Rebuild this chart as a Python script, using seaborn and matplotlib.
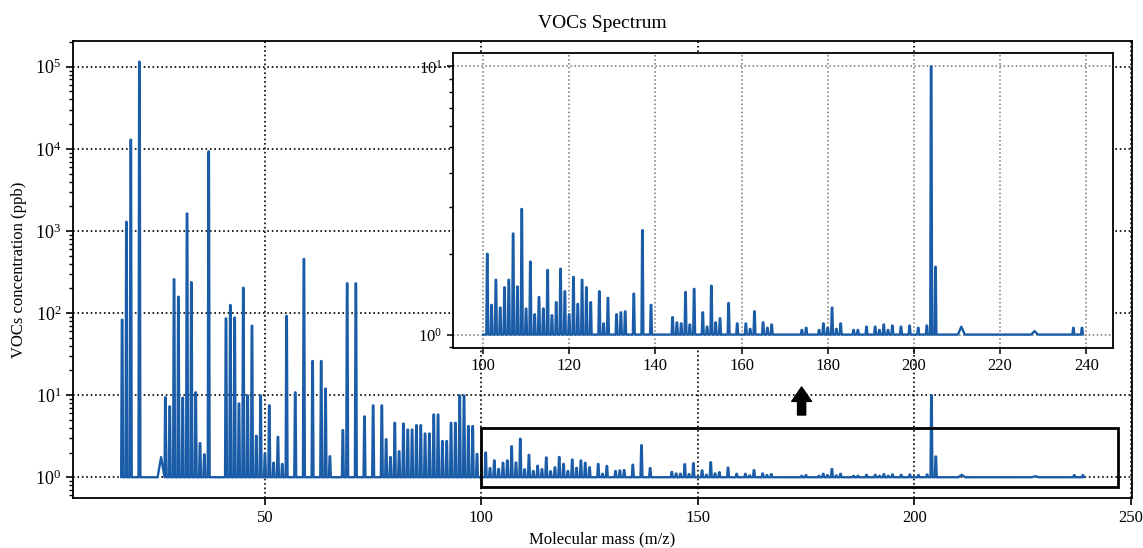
"""
VOCs spektras: pagrindinis grafikas su priartintu intarpu (100-240 m/z)
"""
import numpy as np
import pandas as pd
import matplotlib
matplotlib.use('Agg')
import matplotlib.pyplot as plt
from matplotlib.patches import Rectangle
from matplotlib.ticker import LogLocator, FixedLocator
import seaborn as sns

# Smailių masės (m/z) ir koncentracijos (ppb), nuskaitytos iš paveikslo
masses = [17, 18, 19, 21, 26, 27, 28, 29, 30, 31, 32, 33, 34, 35, 36, 37,
          41, 42, 43, 44, 45, 46, 47, 48, 49, 50, 51, 52, 53, 54, 55, 57,
          59, 61, 63, 64, 65, 68, 69, 71, 73, 75, 77, 78, 79, 80, 81, 82,
          83, 84, 85, 86, 87, 88, 89, 90, 91, 92, 93, 94, 95, 96, 97, 98, 99,
          101, 102, 103, 104, 105, 106, 107, 108, 109, 110, 111, 112, 113,
          114, 115, 116, 117, 118, 119, 120, 121, 122, 123, 124, 125, 127,
          128, 129, 131, 132, 133, 135, 137, 139, 144, 145, 146, 147, 148,
          149, 151, 152, 153, 154, 155, 157, 159, 161, 162, 163, 165, 166,
          167, 174, 175, 178, 179, 180, 181, 182, 183, 186, 187, 189, 191,
          192, 193, 194, 195, 197, 199, 201, 203, 204, 205, 211, 228, 237, 239]
conc = [83, 1290, 12900, 115000, 1.76, 9.4, 7.3, 258, 158, 9.3, 1630, 237,
        10.8, 2.6, 1.9, 9300,
        86, 125, 88, 7.9, 203, 9.9, 70, 3.2, 9.9, 1.94, 7.5, 1.5, 3.1, 1.45,
        92, 10.8,
        455, 26, 26, 12, 1.8, 3.75, 230, 230, 5.5, 7.5, 7.5, 2.9, 1.76, 4.6,
        2.07, 4.5,
        3.8, 3.8, 4.3, 4.3, 3.4, 3.4, 5.8, 5.8, 2.76, 2.76, 4.6, 4.6, 9.9,
        9.9, 4.2, 4.2, 1.92,
        2.0, 1.29, 1.60, 1.26, 1.50, 1.60, 2.38, 1.51, 2.94, 1.25, 1.87,
        1.19, 1.38,
        1.25, 1.74, 1.18, 1.32, 1.76, 1.45, 1.19, 1.64, 1.30, 1.60, 1.50,
        1.32, 1.45,
        1.10, 1.37, 1.19, 1.21, 1.22, 1.42, 2.45, 1.29, 1.16, 1.11, 1.10,
        1.44, 1.09,
        1.48, 1.21, 1.07, 1.52, 1.11, 1.15, 1.31, 1.10, 1.10, 1.05, 1.22,
        1.11, 1.06,
        1.09, 1.04, 1.06, 1.04, 1.10, 1.06, 1.26, 1.05, 1.10, 1.04, 1.04,
        1.07, 1.07,
        1.04, 1.09, 1.04, 1.08, 1.07, 1.08, 1.06, 1.08, 10.0, 1.79, 1.07,
        1.03, 1.06, 1.06]
# Platesnės (trikampės) smailės
broad_masses = [26, 211, 228]

inset_range = (100, 240)
zoom_box = (100, 0.76, 247, 4.0)   # x0, y0, x1, y1
arrow_mass = 174
arrow_span = (5.3, 13.6)

LINE_COLOR = '#1a5ca7'

# Spektro linija: kiekviena smailė – siauras stačiakampis virš bazinės linijos (1 ppb)
xs, ys = [], []
for m, v in zip(masses, conc):
    if m in broad_masses:
        xs += [m - 0.8, m, m + 0.8]
        ys += [1.0, v, 1.0]
    else:
        xs += [m - 0.22, m - 0.06, m + 0.06, m + 0.22]
        ys += [1.0, v, v, 1.0]
xs.append(inset_range[0])
ys.append(1.0)
df = pd.DataFrame({'mz': xs, 'ppb': ys}).sort_values('mz').reset_index(drop=True)
df_in = df[df['mz'] >= inset_range[0]]

sns.set_style('ticks', rc={'axes.edgecolor': 'black', 'xtick.color': 'black',
                           'ytick.color': 'black', 'text.color': 'black',
                           'axes.labelcolor': 'black'})
plt.rcParams['font.family'] = ['Liberation Serif', 'DejaVu Serif']
plt.rcParams['mathtext.fontset'] = 'stix'
plt.rcParams['axes.linewidth'] = 1.3

fig = plt.figure(figsize=(11.43, 5.48), dpi=100)
ax = fig.add_axes([0.0639, 0.0912, 0.9265, 0.834])

sns.lineplot(data=df, x='mz', y='ppb', ax=ax, color=LINE_COLOR, lw=1.7,
             estimator=None, sort=True)
ax.set_yscale('log')
ax.margins(x=0.05, y=0.05)
ax.set_xticks([50, 100, 150, 200, 250])
ax.yaxis.set_major_locator(LogLocator(base=10, numticks=10))
ax.yaxis.set_minor_locator(LogLocator(base=10, subs=np.arange(2, 10), numticks=20))
ax.grid(True, which='major', color='black', linestyle=':', linewidth=1.2)
ax.tick_params(axis='x', which='major', labelsize=12, length=5, width=1.2)
ax.tick_params(axis='y', which='major', labelsize=13, length=5, width=1.2)
ax.tick_params(axis='y', which='minor', length=3, width=1)
ax.set_xlabel('Molecular mass (m/z)', fontsize=12)
ax.set_ylabel('VOCs concentration (ppb)', fontsize=12, labelpad=6)
ax.set_title('VOCs Spectrum', fontsize=14, pad=9)

# Priartinimo rėmelis ir rodyklė
x0, y0, x1, y1 = zoom_box
ax.add_patch(Rectangle((x0, y0), x1 - x0, y1 - y0, fill=False,
                       edgecolor='black', linewidth=2, zorder=4))
ax.annotate('', xy=(arrow_mass, arrow_span[1]), xytext=(arrow_mass, arrow_span[0]),
            arrowprops=dict(arrowstyle='simple,head_width=1.1,head_length=0.8,tail_width=0.45',
                            mutation_scale=13, color='black'))

# Intarpas
axin = fig.add_axes([0.3963, 0.365, 0.5774, 0.5383])
axin.set_zorder(10)
axin.patch.set_facecolor('white')
axin.patch.set_alpha(1.0)
sns.lineplot(data=df_in, x='mz', y='ppb', ax=axin, color=LINE_COLOR, lw=1.7,
             estimator=None, sort=True)
axin.set_yscale('log')
axin.margins(x=0.05, y=0.05)
axin.xaxis.set_major_locator(FixedLocator(np.arange(100, 241, 20)))
axin.yaxis.set_major_locator(LogLocator(base=10, numticks=10))
axin.yaxis.set_minor_locator(LogLocator(base=10, subs=np.arange(2, 10), numticks=20))
axin.grid(True, which='major', color='#777777', linestyle=':', linewidth=1.1)
axin.tick_params(axis='x', which='major', labelsize=12, length=4, width=1.1)
axin.tick_params(axis='y', which='major', labelsize=12, length=4, width=1.1)
axin.tick_params(axis='y', which='minor', length=3, width=1)
axin.set_xlabel('')
axin.set_ylabel('')

fig.savefig('out.png', dpi=100)
